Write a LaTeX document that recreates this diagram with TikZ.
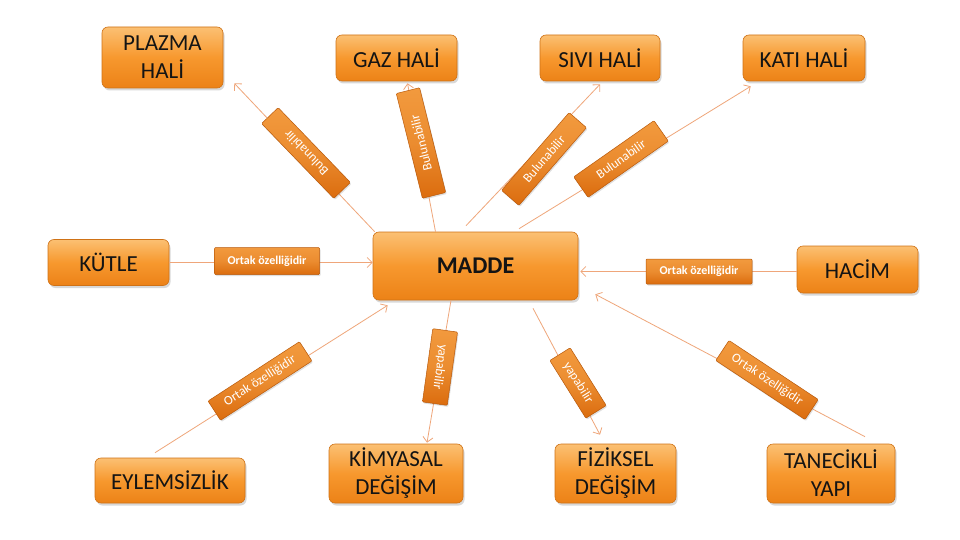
\documentclass[tikz,border=0pt]{standalone}
\usepackage{fontspec}
\setmainfont{Carlito}
\usetikzlibrary{arrows.meta,shadows,calc}
\definecolor{boxtop}{HTML}{FBC073}
\definecolor{boxmid}{HTML}{F7982E}
\definecolor{boxbot}{HTML}{EC8217}
\definecolor{boxline}{HTML}{CF7216}
\definecolor{labtop}{HTML}{F29A3E}
\definecolor{labbot}{HTML}{DB6C0E}
\definecolor{labline}{HTML}{B9590A}
\definecolor{conncol}{HTML}{EFA67A}
\definecolor{txt}{HTML}{141414}
\begin{document}
\begin{tikzpicture}[x=1pt,y=-1pt,
  mainbox/.style={draw=boxline, line width=0.6pt, rounded corners=6pt,
    top color=boxtop, bottom color=boxbot, middle color=boxmid,
    inner sep=0pt, align=center, text=txt,
    font=\fontsize{23}{28}\selectfont,
    drop shadow={opacity=0.3, shadow xshift=1.5pt, shadow yshift=-2.5pt}},
  labbox/.style={draw=labline, line width=0.5pt, rounded corners=1pt,
    top color=labtop, bottom color=labbot, middle color=labtop!70!labbot,
    inner sep=0pt, text=white, font=\fontsize{13}{15}\selectfont,
    drop shadow={opacity=0.25, shadow xshift=1pt, shadow yshift=-1.5pt}},
  hlab/.style={labbox, font=\fontsize{12}{14}\selectfont\bfseries},
  conn/.style={draw=conncol, line width=0.8pt, -{Straight Barb[length=5pt,width=10pt]}},
]
\fill[white] (0,0) rectangle (960,540);
\useasboundingbox (0,0) rectangle (960,540);

% main nodes
\node[mainbox, minimum width=121pt, minimum height=61pt] (plazma) at (162.5,57.5) {PLAZMA\\HALİ};
\node[mainbox, minimum width=121pt, minimum height=46pt] (gaz) at (396.5,58) {GAZ HALİ};
\node[mainbox, minimum width=120pt, minimum height=46pt] (sivi) at (600,58) {SIVI HALİ};
\node[mainbox, minimum width=122pt, minimum height=46pt] (kati) at (804,58) {KATI HALİ};
\node[mainbox, minimum width=121pt, minimum height=46pt] (kutle) at (108.5,262.5) {KÜTLE};
\node[mainbox, minimum width=205pt, minimum height=68pt, font=\fontsize{24}{28}\selectfont\bfseries] (madde) at (475.5,266) {MADDE};
\node[mainbox, minimum width=121pt, minimum height=47pt] (hacim) at (857.5,269.5) {HACİM};
\node[mainbox, minimum width=150pt, minimum height=45pt] (eylem) at (170,480.5) {EYLEMSİZLİK};
\node[mainbox, minimum width=134pt, minimum height=59pt] (kimya) at (396,473.5) {KİMYASAL\\DEĞİŞİM};
\node[mainbox, minimum width=121pt, minimum height=59pt] (fiz) at (615.5,473.5) {FİZİKSEL\\DEĞİŞİM};
\node[mainbox, minimum width=128pt, minimum height=59pt] (tan) at (831,473.5) {TANECİKLİ\\YAPI};

% connectors
\draw[conn] ([xshift=2pt]madde.north west) -- ([xshift=11pt,yshift=5pt]plazma.south east);
\draw[conn] ([xshift=-40pt]madde.north) -- ([xshift=11pt,yshift=-2pt]gaz.south);
\draw[conn] ([xshift=-9.5pt,yshift=6pt]madde.north) -- ([yshift=-3pt]sivi.south);
\draw[conn] ([xshift=43.5pt,yshift=3pt]madde.north) -- ([xshift=8pt,yshift=-5pt]kati.south west);
\draw[conn] (kutle.east) -- (kutle.east -| madde.west);
\draw[conn] ([yshift=-2pt]hacim.west) -- ([xshift=2pt,yshift=-2pt]hacim.west -| madde.east);
\draw[conn] ([xshift=-15pt,yshift=5pt]eylem.north) -- ([xshift=15pt,yshift=-5pt]madde.south west);
\draw[conn] ([xshift=-24.5pt]madde.south) -- ([xshift=31pt,yshift=1pt]kimya.north);
\draw[conn] ([xshift=57.5pt,yshift=-8pt]madde.south) -- ([xshift=-15.5pt,yshift=9pt]fiz.north);
\draw[conn] ([xshift=34pt,yshift=7pt]tan.north) -- ([xshift=17pt,yshift=6pt]madde.south east);

% labels
\node[labbox, minimum width=104pt, minimum height=23pt, rotate=134] (l1) at (306,153) {Bulunabilir};
\node[labbox, minimum width=108pt, minimum height=24pt, rotate=104] (l2) at (421,143) {Bulunabilir};
\node[labbox, minimum width=103pt, minimum height=23pt, rotate=49] (l3) at (544,159) {Bulunabilir};
\node[labbox, minimum width=98pt, minimum height=25pt, rotate=35] (l4) at (621,159) {Bulunabilir};
\node[hlab, minimum width=105pt, minimum height=27pt] (l5) at (267,261) {Ortak özelliğidir};
\node[hlab, minimum width=106pt, minimum height=25pt] (l6) at (699,271.5) {Ortak özelliğidir};
\node[labbox, minimum width=109pt, minimum height=23pt, rotate=33] (l7) at (260,381) {Ortak özelliğidir};
\node[labbox, minimum width=74pt, minimum height=25pt, rotate=-98] (l8) at (440,367) {yapabilir};
\node[labbox, minimum width=68pt, minimum height=24pt, rotate=-58] (l9) at (578,383) {yapabilir};
\node[labbox, minimum width=107pt, minimum height=24pt, rotate=-33.5] (l10) at (767,380) {Ortak özelliğidir};
\end{tikzpicture}
\end{document}
